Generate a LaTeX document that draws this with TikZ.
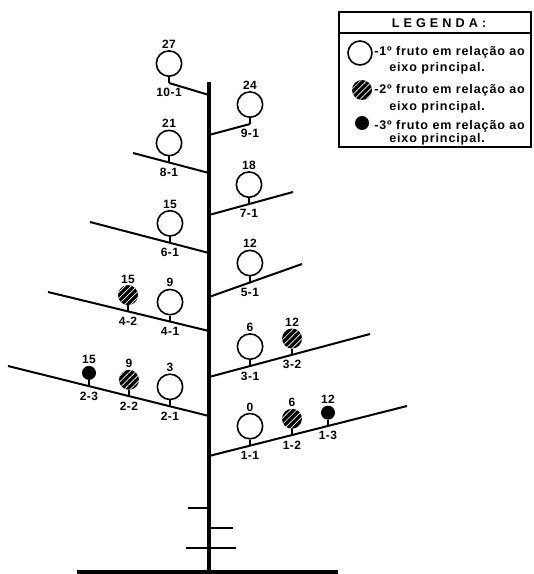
\documentclass[tikz,border=0pt]{standalone}
\usepackage{fontspec}
\setmainfont{Liberation Sans}[LetterSpace=4]
\usetikzlibrary{positioning,calc,patterns.meta}

\tikzset{
  stem/.style={line width=2.3pt},
  branch/.style={line width=1.5pt},
  stalk/.style={line width=1.3pt},
  fruitA/.style={circle,draw,line width=1.2pt,minimum size=19pt,inner sep=0pt},
  fruitB/.style={circle,fill=black,minimum size=15pt,inner sep=0pt,
    postaction={pattern={Lines[angle=45,distance=3.2pt,line width=0.5pt]},pattern color=white}},
  fruitC/.style={circle,fill=black,minimum size=10.5pt,inner sep=0pt},
  num/.style={font=\bfseries\small,inner sep=1pt},
  code/.style={font=\bfseries\small,inner sep=1pt},
  legtext/.style={font=\bfseries\fontsize{9.4}{10}\selectfont\addfontfeature{LetterSpace=7},inner sep=0pt,anchor=west},
}

\begin{document}
\begin{tikzpicture}[x=0.75pt,y=-0.75pt]
  \useasboundingbox (0,0) rectangle (533,574);

  % main axis and ground
  \coordinate (top) at (209,82);
  \coordinate (foot) at (209,572);
  \coordinate (gl) at (77,572);
  \coordinate (gr) at (338,572);
  \draw[stem] (top) -- (foot);
  \draw[stem] (gl) -- (gr);

  % small marks on the lower axis
  \draw[branch] (188,508) -- (209,508);
  \draw[branch] (209,528) -- (233,528);
  \draw[branch] (186,548) -- (236,548);

  % branches
  \foreach \n/\y/\ex/\ey in {1/456/407/406, 2/416/8/366, 3/377/370/334,
      4/331/48/292, 5/297/302/264, 6/253/90/222, 7/215/293/192,
      8/173/133/153, 9/135/250/124, 10/95/169/83}
  {
    \coordinate (s\n) at (209,\y);
    \coordinate (e\n) at (\ex,\ey);
    \draw[branch] (s\n) -- (e\n);
  }

  % fruits: branch / order / position / style / value
  \foreach \b/\i/\t/\kind/\v in {1/1/0.207/fruitA/0, 1/2/0.419/fruitB/6, 1/3/0.601/fruitC/12,
      2/1/0.194/fruitA/3, 2/2/0.398/fruitB/9, 2/3/0.597/fruitC/15,
      3/1/0.255/fruitA/6, 3/2/0.516/fruitB/12,
      4/1/0.242/fruitA/9, 4/2/0.503/fruitB/15,
      5/1/0.44/fruitA/12, 6/1/0.328/fruitA/15, 7/1/0.476/fruitA/18,
      8/1/0.526/fruitA/21, 9/1/1/fruitA/24, 10/1/1/fruitA/27}
  {
    \coordinate (a\b\i) at ($(s\b)!\t!(e\b)$);
    \node[\kind, above=4.5pt of a\b\i, label={[num]above:\v}] (f\b\i) {};
    \draw[stalk] (f\b\i) -- (a\b\i);
    \node[code, below=3pt of a\b\i] (c\b\i) {\b-\i};
  }

  % legend
  \draw[line width=1.2pt] (339,12) rectangle (531,147);
  \draw[line width=1pt] (339,33) -- (531,33);
  \node[font=\bfseries\fontsize{9.5}{10}\selectfont] (legtitle) at (439,23) {L E G E N D A :};

  \node[fruitA,minimum size=18pt] (k1) at (360,53) {};
  \node[legtext] (t1) at (374,52) {-1º fruto em relação ao};
  \node[legtext] (u1) at (389,68) {eixo principal.};

  \node[fruitB] (k2) at (362,90) {};
  \node[legtext] (t2) at (374,90) {-2º fruto em relação ao};
  \node[legtext] (u2) at (389,107) {eixo principal.};

  \node[fruitC] (k3) at (362,123) {};
  \node[legtext] (t3) at (374,126) {-3º fruto em relação ao};
  \node[legtext] (u3) at (389,139) {eixo principal.};
\end{tikzpicture}
\end{document}
